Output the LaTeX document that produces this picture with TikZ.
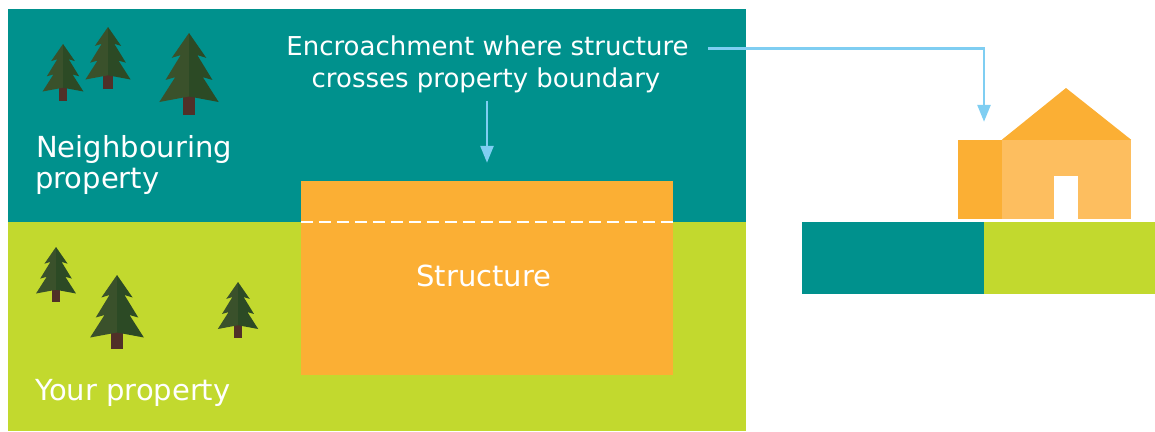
\documentclass[tikz,border=0pt]{standalone}
\usepackage{fontspec}
\setmainfont{DejaVu Sans}
\usetikzlibrary{arrows.meta}

\definecolor{neighbourland}{HTML}{00918D}
\definecolor{ownland}{HTML}{C2D92E}
\definecolor{build}{HTML}{FBAF34}
\definecolor{buildlight}{HTML}{FDBE5F}
\definecolor{arrowblue}{HTML}{7FCEF2}
\definecolor{needleleft}{HTML}{3A512B}
\definecolor{needleright}{HTML}{2C4A25}
\definecolor{bark}{HTML}{503028}

\tikzset{
	tree/.pic = {
		\fill [bark] (-4.5, 40) rectangle (4.5, 59.5);
		\fill [needleleft] (0, 0) -- (-12.5, 18) -- (-6, 16) -- (-17, 34) -- (-10, 32) -- (-21.5, 50) -- (0, 46) -- cycle;
		\fill [needleright] (0, 0) -- (12.5, 18) -- (6, 16) -- (17, 34) -- (10, 32) -- (21.5, 50) -- (0, 46) -- cycle;
	},
	block/.style = {rectangle, inner sep = 0pt, draw = none},
	label text/.style = {text = white, inner sep = 0pt, font = \fontsize{29}{35}\selectfont},
	note text/.style = {text = white, inner sep = 3pt, font = \fontsize{26}{32}\selectfont},
	pointer/.style = {arrowblue, line width = 2.6pt, -{Triangle[width = 13pt, length = 17pt]}},
	boundary/.style = {white, line width = 2pt, dash pattern = on 12pt off 6pt}
}

\begin{document}
\begin{tikzpicture}[x = 1pt, y = -1pt]

	\useasboundingbox (0, 0) rectangle (1155, 431);

	% The two properties
	\fill [neighbourland] (8, 9) rectangle (746, 222);
	\fill [ownland] (8, 222) rectangle (746, 431);
	\coordinate (edge) at (0, 222);

	% Trees
	\foreach \x/\y/\s in {63/44/0.95, 108/27/1.05, 189/33/1.38, 56/247/0.93, 117/275/1.25, 238/282/0.94}
		\pic [scale = \s] at (\x, \y) {tree};

	% The structure across the boundary
	\node [block, fill = build, minimum width = 372, minimum height = 194] (structure) at (487, 278) {};
	\draw [boundary] (structure.west |- edge) -- (structure.east |- edge);
	\node [label text, anchor = base] (structure-name) at (484, 286) {Structure};

	\node [label text, anchor = base west] (neighbour-1) at (36, 157) {Neighbouring};
	\node [label text, anchor = base west] (neighbour-2) at (35, 188) {property};
	\node [label text, anchor = base west] (own) at (35, 400) {Your property};

	% Side view
	\fill [neighbourland] (802, 222) rectangle (984, 294);
	\fill [ownland] (984, 222) rectangle (1155, 294);
	\node [block, fill = build, minimum width = 44, minimum height = 79] (annex) at (980, 179.5) {};
	\node [block, fill = buildlight, minimum width = 129, minimum height = 79] (house) at (1066.5, 179.5) {};
	\fill [build] (house.north west) -- (1066, 88) -- (house.north east) -- cycle;
	\fill [white] (1054, 176) rectangle (1078, 219);

	% Note and arrows
	\node [note text, anchor = base] (note-top) at (487.5, 55) {Encroachment where structure};
	\node [note text, anchor = base] (note-bottom) at (486, 87) {crosses property boundary};

	\draw [pointer, shorten > = 18pt] ([shift = {(16, 3)}]note-top.east) -| ([xshift = 4]annex.north);
	\draw [pointer, shorten < = 5pt, shorten > = 18pt] (structure.north |- note-bottom.south) -- (structure.north);

\end{tikzpicture}
\end{document}
